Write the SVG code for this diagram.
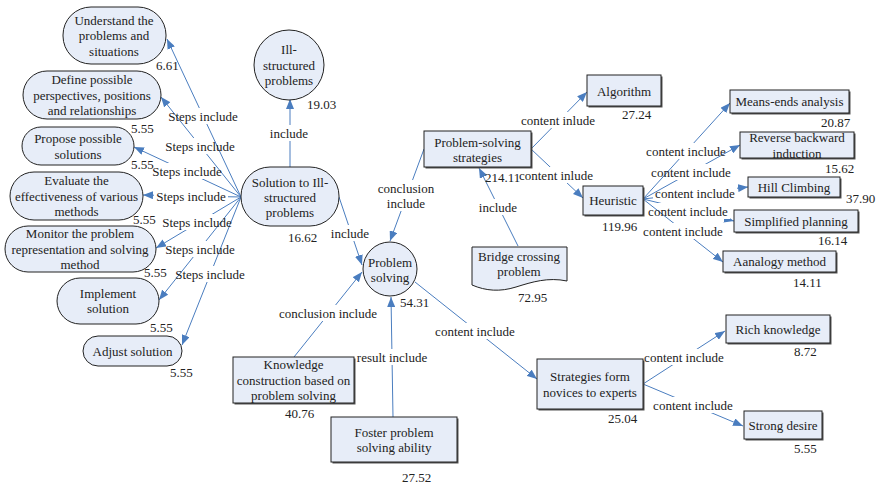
<svg xmlns="http://www.w3.org/2000/svg" width="877" height="485" viewBox="0 0 877 485" font-family="'Liberation Serif', 'Times New Roman', Times, serif" font-size="13">
<style>
text{font-family:'Liberation Serif','Times New Roman',Times,serif;font-size:13px;fill:#222}
.c{text-anchor:middle}
.n{fill:#e7edf8;stroke:#222;stroke-width:1}
.sh{fill:#555}
.e{stroke:#4a7dbf;stroke-width:1;fill:none;marker-end:url(#ah)}
</style>
<defs>
<marker id="ah" markerUnits="userSpaceOnUse" markerWidth="11" markerHeight="8" refX="10" refY="4" orient="auto"><path d="M0,0 L10,4 L0,8 z" fill="#4a7dbf"/></marker>
<mask id="mS1" maskUnits="userSpaceOnUse" x="0" y="0" width="877" height="485"><rect width="877" height="485" fill="#fff"/><rect x="166" y="108" width="74" height="16" fill="#000"/></mask>
<mask id="mS2" maskUnits="userSpaceOnUse" x="0" y="0" width="877" height="485"><rect width="877" height="485" fill="#fff"/><rect x="163" y="138" width="74" height="16" fill="#000"/></mask>
<mask id="mS3" maskUnits="userSpaceOnUse" x="0" y="0" width="877" height="485"><rect width="877" height="485" fill="#fff"/><rect x="150" y="163" width="74" height="16" fill="#000"/></mask>
<mask id="mS4" maskUnits="userSpaceOnUse" x="0" y="0" width="877" height="485"><rect width="877" height="485" fill="#fff"/><rect x="154" y="188" width="74" height="16" fill="#000"/></mask>
<mask id="mS5" maskUnits="userSpaceOnUse" x="0" y="0" width="877" height="485"><rect width="877" height="485" fill="#fff"/><rect x="160" y="214" width="74" height="16" fill="#000"/></mask>
<mask id="mS6" maskUnits="userSpaceOnUse" x="0" y="0" width="877" height="485"><rect width="877" height="485" fill="#fff"/><rect x="163" y="241" width="74" height="16" fill="#000"/></mask>
<mask id="mS7" maskUnits="userSpaceOnUse" x="0" y="0" width="877" height="485"><rect width="877" height="485" fill="#fff"/><rect x="173" y="266" width="74" height="16" fill="#000"/></mask>
<mask id="mI1" maskUnits="userSpaceOnUse" x="0" y="0" width="877" height="485"><rect width="877" height="485" fill="#fff"/><rect x="268" y="125" width="42" height="16" fill="#000"/></mask>
<mask id="mI2" maskUnits="userSpaceOnUse" x="0" y="0" width="877" height="485"><rect width="877" height="485" fill="#fff"/><rect x="329" y="225" width="42" height="16" fill="#000"/></mask>
<mask id="mC1" maskUnits="userSpaceOnUse" x="0" y="0" width="877" height="485"><rect width="877" height="485" fill="#fff"/><rect x="376" y="180" width="60" height="31" fill="#000"/></mask>
<mask id="mA1" maskUnits="userSpaceOnUse" x="0" y="0" width="877" height="485"><rect width="877" height="485" fill="#fff"/><rect x="519" y="112" width="78" height="16" fill="#000"/></mask>
<mask id="mA2" maskUnits="userSpaceOnUse" x="0" y="0" width="877" height="485"><rect width="877" height="485" fill="#fff"/><rect x="517" y="167" width="78" height="16" fill="#000"/></mask>
<mask id="mI3" maskUnits="userSpaceOnUse" x="0" y="0" width="877" height="485"><rect width="877" height="485" fill="#fff"/><rect x="477" y="199" width="42" height="16" fill="#000"/></mask>
<mask id="mH1" maskUnits="userSpaceOnUse" x="0" y="0" width="877" height="485"><rect width="877" height="485" fill="#fff"/><rect x="644" y="143" width="84" height="16" fill="#000"/></mask>
<mask id="mH2" maskUnits="userSpaceOnUse" x="0" y="0" width="877" height="485"><rect width="877" height="485" fill="#fff"/><rect x="649" y="164" width="84" height="16" fill="#000"/></mask>
<mask id="mH3" maskUnits="userSpaceOnUse" x="0" y="0" width="877" height="485"><rect width="877" height="485" fill="#fff"/><rect x="653" y="185" width="84" height="16" fill="#000"/></mask>
<mask id="mH4" maskUnits="userSpaceOnUse" x="0" y="0" width="877" height="485"><rect width="877" height="485" fill="#fff"/><rect x="646" y="203" width="84" height="16" fill="#000"/></mask>
<mask id="mH5" maskUnits="userSpaceOnUse" x="0" y="0" width="877" height="485"><rect width="877" height="485" fill="#fff"/><rect x="641" y="223" width="84" height="16" fill="#000"/></mask>
<mask id="mC2" maskUnits="userSpaceOnUse" x="0" y="0" width="877" height="485"><rect width="877" height="485" fill="#fff"/><rect x="277" y="305" width="102" height="16" fill="#000"/></mask>
<mask id="mR" maskUnits="userSpaceOnUse" x="0" y="0" width="877" height="485"><rect width="877" height="485" fill="#fff"/><rect x="355" y="349" width="74" height="16" fill="#000"/></mask>
<mask id="mP1" maskUnits="userSpaceOnUse" x="0" y="0" width="877" height="485"><rect width="877" height="485" fill="#fff"/><rect x="433" y="323" width="84" height="16" fill="#000"/></mask>
<mask id="mP2" maskUnits="userSpaceOnUse" x="0" y="0" width="877" height="485"><rect width="877" height="485" fill="#fff"/><rect x="642" y="349" width="84" height="16" fill="#000"/></mask>
<mask id="mP3" maskUnits="userSpaceOnUse" x="0" y="0" width="877" height="485"><rect width="877" height="485" fill="#fff"/><rect x="651" y="397" width="84" height="16" fill="#000"/></mask>
</defs>
<rect width="877" height="485" fill="#fff"/>

<g id="connectors">
<line class="e" x1="241" y1="197" x2="167" y2="39" mask="url(#mS1)"/>
<line class="e" x1="241" y1="197" x2="161" y2="97" mask="url(#mS2)"/>
<line class="e" x1="241" y1="197" x2="134" y2="147" mask="url(#mS3)"/>
<line class="e" x1="241" y1="197" x2="143" y2="195" mask="url(#mS4)"/>
<line class="e" x1="241" y1="197" x2="156" y2="248" mask="url(#mS5)"/>
<line class="e" x1="241" y1="197" x2="159" y2="300" mask="url(#mS6)"/>
<line class="e" x1="241" y1="197" x2="182" y2="345" mask="url(#mS7)"/>
<line class="e" x1="290" y1="167" x2="290" y2="99" mask="url(#mI1)"/>
<line class="e" x1="339" y1="197" x2="362" y2="265" mask="url(#mI2)"/>
<line class="e" x1="424" y1="149" x2="390" y2="241" mask="url(#mC1)"/>
<line class="e" x1="531" y1="149" x2="587" y2="92" mask="url(#mA1)"/>
<line class="e" x1="531" y1="149" x2="583" y2="198" mask="url(#mA2)"/>
<line class="e" x1="518" y1="246" x2="479" y2="168" mask="url(#mI3)"/>
<line class="e" x1="643" y1="199" x2="730" y2="103" mask="url(#mH1)"/>
<line class="e" x1="643" y1="199" x2="740" y2="145" mask="url(#mH2)"/>
<line class="e" x1="643" y1="199" x2="748" y2="187" mask="url(#mH3)"/>
<line class="e" x1="643" y1="199" x2="734" y2="221" mask="url(#mH4)"/>
<line class="e" x1="643" y1="199" x2="723" y2="262" mask="url(#mH5)"/>
<line class="e" x1="294" y1="357" x2="362" y2="272" mask="url(#mC2)"/>
<line class="e" x1="393" y1="417" x2="391" y2="297" mask="url(#mR)"/>
<line class="e" x1="415" y1="282" x2="537" y2="379" mask="url(#mP1)"/>
<line class="e" x1="643" y1="384" x2="725" y2="331" mask="url(#mP2)"/>
<line class="e" x1="643" y1="384" x2="743" y2="426" mask="url(#mP3)"/>
<text class="c" x="203" y="120.5">Steps include</text>
<text class="c" x="200" y="150.5">Steps include</text>
<text class="c" x="187" y="175.5">Steps include</text>
<text class="c" x="191" y="200.5">Steps include</text>
<text class="c" x="197" y="226.5">Steps include</text>
<text class="c" x="200" y="253.5">Steps include</text>
<text class="c" x="210" y="278.5">Steps include</text>
<text class="c" x="289" y="137.5">include</text>
<text class="c" x="350" y="237.5">include</text>
<text class="c" x="406" y="192.5">conclusion</text>
<text class="c" x="406" y="207.5">include</text>
<text class="c" x="558" y="124.5">content inlude</text>
<text class="c" x="556" y="179.5">content inlude</text>
<text class="c" x="498" y="211.5">include</text>
<text class="c" x="686" y="155.5">content include</text>
<text class="c" x="691" y="176.5">content include</text>
<text class="c" x="695" y="197.5">content include</text>
<text class="c" x="688" y="215.5">content include</text>
<text class="c" x="683" y="235.5">content include</text>
<text class="c" x="328" y="317.5">conclusion include</text>
<text class="c" x="392" y="361.5">result include</text>
<text class="c" x="475" y="335.5">content include</text>
<text class="c" x="684" y="361.5">content include</text>
<text class="c" x="693" y="409.5">content include</text>
</g>

<g id="understand">
<rect class="n" x="63" y="7" width="103" height="57" rx="28"/>
<text class="c" x="114" y="24.5">Understand the</text>
<text class="c" x="114" y="40">problems and</text>
<text class="c" x="114" y="55.5">situations</text>
<text x="156" y="69.5">6.61</text>
</g>
<g id="define">
<rect class="n" x="23" y="71" width="138" height="48" rx="24"/>
<text class="c" x="92" y="83.5">Define possible</text>
<text class="c" x="92" y="99.5">perspectives, positions</text>
<text class="c" x="92" y="114.5">and relationships</text>
<text x="131" y="132.5">5.55</text>
</g>
<g id="propose">
<rect class="n" x="22" y="127" width="112" height="38" rx="19"/>
<text class="c" x="78" y="142.5">Propose possible</text>
<text class="c" x="78" y="158.5">solutions</text>
<text x="131" y="168.5">5.55</text>
</g>
<g id="evaluate">
<rect class="n" x="10" y="172" width="133" height="48" rx="24"/>
<text class="c" x="76.5" y="184.5">Evaluate  the</text>
<text class="c" x="76.5" y="200.5">effectiveness of various</text>
<text class="c" x="76.5" y="215.5">methods</text>
<text x="133" y="223.5">5.55</text>
</g>
<g id="monitor">
<rect class="n" x="5" y="226" width="151" height="46" rx="23"/>
<text class="c" x="80" y="237.5">Monitor  the problem</text>
<text class="c" x="80" y="253.5">representation and solving</text>
<text class="c" x="80" y="268.5">method</text>
<text x="144" y="276.5">5.55</text>
</g>
<g id="implement">
<rect class="n" x="57" y="278" width="102" height="46" rx="23"/>
<text class="c" x="108" y="298">Implement</text>
<text class="c" x="108" y="313">solution</text>
<text x="150" y="331.5">5.55</text>
</g>
<g id="adjust">
<rect class="n" x="83" y="336" width="99" height="30" rx="15"/>
<text class="c" x="132.5" y="355.5">Adjust solution</text>
<text x="170" y="376.5">5.55</text>
</g>
<g id="solution">
<rect class="n" x="241" y="167" width="98" height="59" rx="29"/>
<text class="c" x="290" y="186.5">Solution to  Ill-</text>
<text class="c" x="290" y="201.5">structured</text>
<text class="c" x="290" y="216.5">problems</text>
<text x="288" y="241.5">16.62</text>
</g>
<g id="ill">
<circle class="n" cx="289" cy="65" r="35"/>
<text class="c" x="289" y="53.5">Ill-</text>
<text class="c" x="289" y="69.5">structured</text>
<text class="c" x="289" y="84.5">problems</text>
<text x="307" y="108.5">19.03</text>
</g>
<g id="problem-solving">
<circle class="n" cx="390" cy="269" r="27"/>
<text class="c" x="390" y="266.5">Problem</text>
<text class="c" x="390" y="281.5">solving</text>
<text x="400" y="306.5">54.31</text>
</g>
<g id="pss">
<rect class="sh" x="425.5" y="132.5" width="107" height="36"/>
<rect class="n" x="424" y="131" width="107" height="36"/>
<text class="c" x="477.5" y="146.5">Problem-solving</text>
<text class="c" x="477.5" y="161.5">strategies</text>
<text x="485" y="181.5">214.11</text>
</g>
<g id="algorithm">
<rect class="sh" x="588.5" y="76.5" width="74" height="31"/>
<rect class="n" x="587" y="75" width="74" height="31"/>
<text class="c" x="624" y="95.5">Algorithm</text>
<text x="622" y="118.5">27.24</text>
</g>
<g id="heuristic">
<rect class="sh" x="584.5" y="187.5" width="60" height="29"/>
<rect class="n" x="583" y="186" width="60" height="29"/>
<text class="c" x="613" y="204.5">Heuristic</text>
<text x="602" y="230.5">119.96</text>
</g>
<g id="bridge">
<path class="n" d="M472,247 H567 V281 C548,277 532,282 516,287 C500,292 486,291 472,285 Z"/>
<text class="c" x="519" y="260.5">Bridge crossing</text>
<text class="c" x="519" y="275.5">problem</text>
<text x="518" y="301.5">72.95</text>
</g>
<g id="means-ends">
<rect class="sh" x="731.5" y="91.5" width="119" height="23"/>
<rect class="n" x="730" y="90" width="119" height="23"/>
<text class="c" x="789.5" y="105.5">Means-ends analysis</text>
<text x="821" y="126.5">20.87</text>
</g>
<g id="reverse">
<rect class="sh" x="741.5" y="133.5" width="114" height="26"/>
<rect class="n" x="740" y="132" width="114" height="26"/>
<text class="c" x="797" y="141.5">Reverse backward</text>
<text class="c" x="797" y="157.5">induction</text>
<text x="825" y="172.5">15.62</text>
</g>
<g id="hill">
<rect class="sh" x="749.5" y="178.5" width="92" height="20"/>
<rect class="n" x="748" y="177" width="92" height="20"/>
<text class="c" x="794" y="191.5">Hill Climbing</text>
<text x="846" y="202.5">37.90</text>
</g>
<g id="simplified">
<rect class="sh" x="735.5" y="211.5" width="124" height="22"/>
<rect class="n" x="734" y="210" width="124" height="22"/>
<text class="c" x="796" y="225.5">Simplified planning</text>
<text x="818" y="244.5">16.14</text>
</g>
<g id="analogy">
<rect class="sh" x="724.5" y="252.5" width="113" height="21"/>
<rect class="n" x="723" y="251" width="113" height="21"/>
<text class="c" x="779.5" y="266">Aanalogy method</text>
<text x="793" y="286.5">14.11</text>
</g>
<g id="knowledge">
<rect class="sh" x="234.5" y="358.5" width="121" height="46"/>
<rect class="n" x="233" y="357" width="121" height="46"/>
<text class="c" x="293.5" y="368.5">Knowledge</text>
<text class="c" x="293.5" y="384.5">construction based on</text>
<text class="c" x="293.5" y="399.5">problem solving</text>
<text x="285" y="417.5">40.76</text>
</g>
<g id="foster">
<rect class="sh" x="332.5" y="418.5" width="126" height="45"/>
<rect class="n" x="331" y="417" width="126" height="45"/>
<text class="c" x="394" y="436.5">Foster  problem</text>
<text class="c" x="394" y="451.5">solving ability</text>
<text x="402" y="481.5">27.52</text>
</g>
<g id="strategies">
<rect class="sh" x="538.5" y="360.5" width="106" height="50"/>
<rect class="n" x="537" y="359" width="106" height="50"/>
<text class="c" x="590" y="380.5">Strategies form</text>
<text class="c" x="590" y="396.5">novices to experts</text>
<text x="608" y="422.5">25.04</text>
</g>
<g id="rich">
<rect class="sh" x="727.5" y="316.5" width="104" height="28"/>
<rect class="n" x="726" y="315" width="104" height="28"/>
<text class="c" x="778" y="333.5">Rich knowledge</text>
<text x="794" y="355.5">8.72</text>
</g>
<g id="strong">
<rect class="sh" x="745.5" y="412.5" width="78" height="28"/>
<rect class="n" x="744" y="411" width="78" height="28"/>
<text class="c" x="783" y="429.5">Strong desire</text>
<text x="794" y="452.5">5.55</text>
</g>
</svg>
